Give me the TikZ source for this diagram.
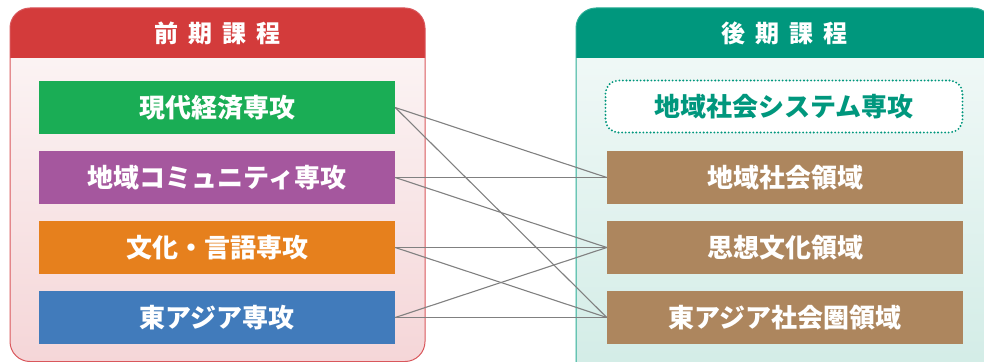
\documentclass[tikz,border=0pt]{standalone}
\usepackage{fontspec}
\newfontfamily\jp{Noto Sans CJK JP}
\definecolor{lhead}{HTML}{D33B3B}
\definecolor{lline}{HTML}{D9575C}
\definecolor{ltop}{HTML}{FCF8F8}
\definecolor{lbot}{HTML}{F5D6D8}
\definecolor{rhead}{HTML}{00977D}
\definecolor{rline}{HTML}{2BAE96}
\definecolor{rtop}{HTML}{F4FAF9}
\definecolor{rbot}{HTML}{D2ECE6}
\definecolor{cgreen}{HTML}{1AAD55}
\definecolor{cpurple}{HTML}{A5579E}
\definecolor{corange}{HTML}{E6801D}
\definecolor{cblue}{HTML}{417BBB}
\definecolor{cbrown}{HTML}{AD865E}
\definecolor{cgray}{HTML}{808080}
\begin{document}
\begin{tikzpicture}[x=1pt,y=-1pt,
  boxlabel/.style={minimum width=356pt,minimum height=53pt,inner sep=0pt,
    text=white,font=\jp\bfseries\fontsize{26}{30}\selectfont},
  headlabel/.style={inner sep=0pt,text=white,font=\jp\bfseries\fontsize{24}{28}\selectfont},
  conn/.style={draw=cgray,line width=1.1pt}]
\useasboundingbox (0,0) rectangle (984,361);
\clip (0,0) rectangle (984,361);
% left panel
\shade[top color=ltop,bottom color=lbot,rounded corners=20pt] (10,8) rectangle (425,361.5);
\begin{scope}
  \clip (0,0) rectangle (984,58);
  \fill[lhead,rounded corners=20pt] (10,8) rectangle (425,361.5);
\end{scope}
\draw[lline,line width=1pt,rounded corners=20pt] (10,8) rectangle (425,361.5);
% right panel
\shade[top color=rtop,bottom color=rbot,rounded corners=20pt] (576,8) rectangle (993,380);
\begin{scope}
  \clip (0,0) rectangle (984,58);
  \fill[rhead,rounded corners=20pt] (576,8) rectangle (993,380);
\end{scope}
\draw[rline,line width=1pt,rounded corners=20pt] (576,8) rectangle (993,380);
% headers
\node[headlabel] (lh) at (217.5,33.5) {前\hspace{10pt}期\hspace{10pt}課\hspace{10pt}程};
\node[headlabel] (rh) at (784.5,33.5) {後\hspace{10pt}期\hspace{10pt}課\hspace{10pt}程};
% left boxes
\node[boxlabel,fill=cgreen] (l1) at (217,107.5) {現代経済専攻};
\node[boxlabel,fill=cpurple] (l2) at (217,177.5) {地域コミュニティ専攻};
\node[boxlabel,fill=corange] (l3) at (217,247.5) {文化・言語専攻};
\node[boxlabel,fill=cblue] (l4) at (217,317.5) {東アジア専攻};
% right boxes
\node[boxlabel,minimum width=357pt,minimum height=52pt,text=rhead,fill=white,draw=rhead,line width=2.1pt,
  dash pattern=on 0pt off 3.55pt,line cap=round,rounded corners=13pt] (r0) at (784,106.5) {地域社会システム専攻};
\node[boxlabel,fill=cbrown] (r1) at (785,177.5) {地域社会領域};
\node[boxlabel,fill=cbrown] (r2) at (785,247.5) {思想文化領域};
\node[boxlabel,fill=cbrown] (r3) at (785,317.5) {東アジア社会圏領域};
% connectors
\draw[conn] (l1.east) -- (r1.west);
\draw[conn] (l1.east) -- (r3.west);
\draw[conn] (l2.east) -- (r1.west);
\draw[conn] (l2.east) -- (r2.west);
\draw[conn] (l3.east) -- (r2.west);
\draw[conn] (l3.east) -- (r3.west);
\draw[conn] (l4.east) -- (r2.west);
\draw[conn] (l4.east) -- (r3.west);
\end{tikzpicture}
\end{document}
